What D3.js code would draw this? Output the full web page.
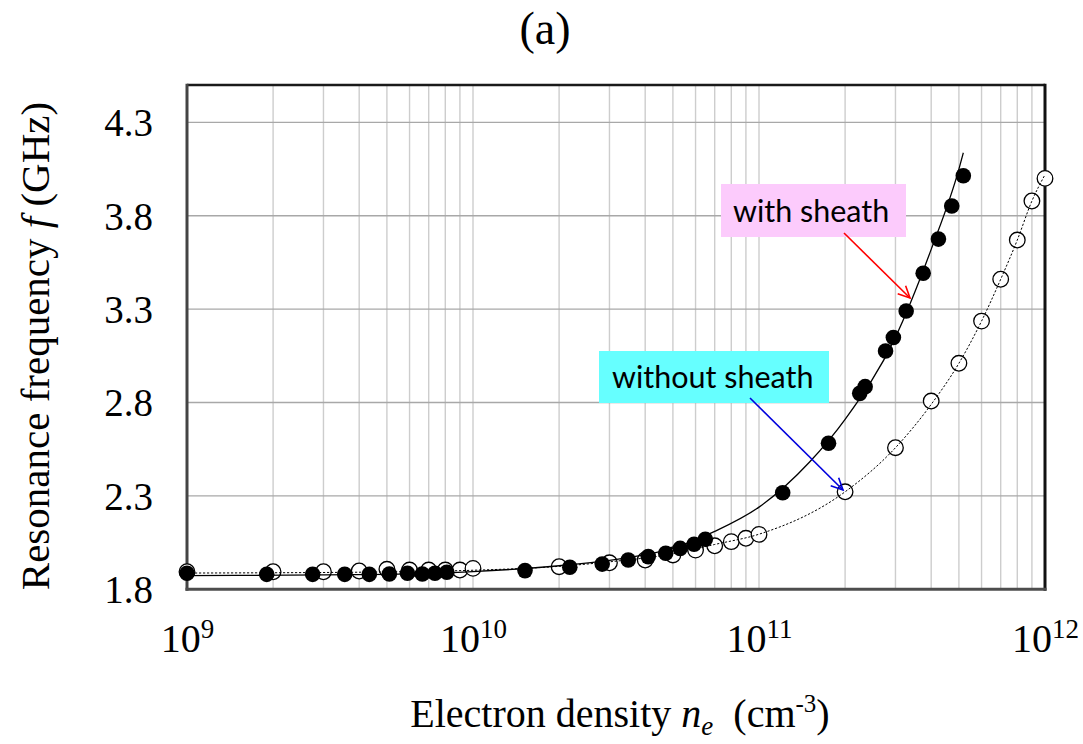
<!DOCTYPE html>
<html>
<head>
<meta charset="utf-8">
<script src="https://cdn.jsdelivr.net/npm/d3@7"></script>
<style>
  html, body { margin: 0; padding: 0; background: #fff; }
  svg { display: block; }
</style>
</head>
<body>
<svg id="chart" width="1083" height="744"></svg>
<script>
// Measured resonance frequency (GHz) vs electron density (cm^-3)
const withSheathN = [1.0e9, 1.9e9, 2.75e9, 3.56e9, 4.34e9, 5.1e9, 5.9e9, 6.65e9, 7.36e9, 8.1e9,
  1.52e10, 2.18e10, 2.83e10, 3.49e10, 4.1e10, 4.72e10, 5.3e10, 5.93e10, 6.49e10,
  1.21e11, 1.75e11, 2.25e11, 2.35e11, 2.77e11, 2.95e11, 3.27e11, 3.75e11, 4.24e11, 4.72e11, 5.18e11];
const withSheathF = [1.886, 1.880, 1.880, 1.880, 1.880, 1.882, 1.886, 1.882, 1.886, 1.891,
  1.900, 1.918, 1.935, 1.957, 1.975, 1.993, 2.019, 2.041, 2.068,
  2.317, 2.582, 2.849, 2.885, 3.076, 3.148, 3.290, 3.492, 3.675, 3.852, 4.014];

const withoutSheathN = [1e9, 2e9, 3e9, 4e9, 5e9, 6e9, 7e9, 8e9, 9e9, 1e10,
  2e10, 3e10, 4e10, 5e10, 6e10, 7e10, 8e10, 9e10, 1e11,
  2e11, 3e11, 4e11, 5e11, 6e11, 7e11, 8e11, 9e11, 1e12];
const withoutSheathF = [1.894, 1.894, 1.894, 1.898, 1.907, 1.903, 1.903, 1.903, 1.903, 1.912,
  1.921, 1.942, 1.957, 1.984, 2.010, 2.033, 2.055, 2.073, 2.094,
  2.322, 2.558, 2.808, 3.010, 3.236, 3.460, 3.670, 3.879, 4.000];

// Fitted curves
const withFitN = [1e9, 3e9, 5e9, 1e10, 2e10, 3e10, 5e10, 7e10, 1e11, 1.5e11, 2e11, 3e11, 4e11, 5e11, 5.18e11];
const withFitF = [1.873, 1.877, 1.880, 1.895, 1.926, 1.955, 2.02, 2.11, 2.24, 2.48, 2.71, 3.15, 3.62, 4.05, 4.137];
const withoutFitN = [1e9, 5e9, 1e10, 2e10, 3e10, 5e10, 7e10, 1e11, 2e11, 3e11, 4e11, 5e11, 6e11, 7e11, 8e11, 9e11, 1e12];
const withoutFitF = [1.887, 1.893, 1.902, 1.923, 1.947, 1.99, 2.04, 2.095, 2.322, 2.558, 2.79, 3.01, 3.236, 3.46, 3.67, 3.879, 4.02];

// Axis ticks
const xTickValues = [1e9, 1e10, 1e11, 1e12];
const xTickExponents = ["9", "10", "11", "12"];
const yTickValues = [1.8, 2.3, 2.8, 3.3, 3.8, 4.3];
const yDomain = [1.8, 4.5];

const svg = d3.select("#chart");
const plotL = 187, plotR = 1045, plotT = 85, plotB = 589.3;

const x = d3.scaleLog().domain([1e9, 1e12]).range([plotL, plotR]);
const y = d3.scaleLinear().domain(yDomain).range([plotB, plotT]);

const serif = "'Liberation Serif', 'Times New Roman', serif";

// Grid
const grid = svg.append("g");
grid.selectAll("line.v")
  .data(x.ticks().filter(t => t > 1e9 * 1.01 && t < 1e12 * 0.99))
  .join("line")
  .attr("x1", d => x(d)).attr("x2", d => x(d))
  .attr("y1", plotT).attr("y2", plotB)
  .attr("stroke", "#cdcdcd").attr("stroke-width", 1.4);
grid.selectAll("line.h")
  .data(yTickValues.filter(v => v > yDomain[0]))
  .join("line")
  .attr("x1", plotL).attr("x2", plotR)
  .attr("y1", d => y(d)).attr("y2", d => y(d))
  .attr("stroke", "#a8a8a8").attr("stroke-width", 1.4);

// Frame
svg.append("line").attr("x1", plotL).attr("x2", plotR).attr("y1", plotT).attr("y2", plotT)
  .attr("stroke", "#1a1a1a").attr("stroke-width", 2.6);
svg.append("line").attr("x1", plotR).attr("x2", plotR).attr("y1", plotT - 1.3).attr("y2", plotB + 1.5)
  .attr("stroke", "#111").attr("stroke-width", 3);
svg.append("line").attr("x1", plotL).attr("x2", plotL).attr("y1", plotT - 1.3).attr("y2", plotB + 1.5)
  .attr("stroke", "#444").attr("stroke-width", 3);
svg.append("line").attr("x1", plotL - 1.5).attr("x2", plotR + 1.5).attr("y1", plotB).attr("y2", plotB)
  .attr("stroke", "#4d4d4d").attr("stroke-width", 3);

// Y axis labels
const yAxis = svg.append("g")
  .attr("transform", `translate(${plotL},0)`)
  .call(d3.axisLeft(y).tickValues(yTickValues).tickSize(0).tickPadding(34).tickFormat(d3.format(".1f")));
yAxis.select(".domain").remove();
yAxis.selectAll("text")
  .attr("font-family", serif).attr("font-size", 39).attr("fill", "#000")
  .attr("dy", "0.34em");

// X axis labels with superscript exponents
const xAxis = svg.append("g")
  .attr("transform", `translate(0,${plotB})`)
  .call(d3.axisBottom(x).tickValues(xTickValues).tickSize(0).tickFormat(() => ""));
xAxis.select(".domain").remove();
xAxis.selectAll("text")
  .attr("font-family", serif).attr("font-size", 40).attr("fill", "#000")
  .attr("y", 63).attr("dy", 0)
  .each(function(d, i) {
    const t = d3.select(this);
    t.text(null);
    t.append("tspan").text("10");
    t.append("tspan").attr("font-size", 27).attr("dy", -14).text(xTickExponents[i]);
  });

// Markers: open circles (without sheath) under filled circles (with sheath)
const openPts = withoutSheathN.map((n, i) => [n, withoutSheathF[i]]);
const filledPts = withSheathN.map((n, i) => [n, withSheathF[i]]);

svg.append("g").selectAll("circle")
  .data(openPts).join("circle")
  .attr("cx", d => x(d[0])).attr("cy", d => y(d[1])).attr("r", 7.8)
  .attr("fill", "#fff").attr("stroke", "#000").attr("stroke-width", 1.3);

svg.append("g").selectAll("circle")
  .data(filledPts).join("circle")
  .attr("cx", d => x(d[0])).attr("cy", d => y(d[1])).attr("r", 7.8)
  .attr("fill", "#000");

// Fit curves
const line = d3.line().x(d => x(d[0])).y(d => y(d[1])).curve(d3.curveMonotoneX);
svg.append("path")
  .datum(withoutFitN.map((n, i) => [n, withoutFitF[i]]))
  .attr("d", line).attr("fill", "none")
  .attr("stroke", "#000").attr("stroke-width", 1).attr("stroke-dasharray", "2.2,1.8");
svg.append("path")
  .datum(withFitN.map((n, i) => [n, withFitF[i]]))
  .attr("d", line).attr("fill", "none")
  .attr("stroke", "#000").attr("stroke-width", 1.3);

// Annotations
function arrow(x1, y1, x2, y2, color) {
  const g = svg.append("g").attr("stroke", color).attr("stroke-width", 1.6).attr("fill", "none");
  g.append("line").attr("x1", x1).attr("y1", y1).attr("x2", x2).attr("y2", y2);
  const a = Math.atan2(y2 - y1, x2 - x1), L = 13, s = 0.45;
  g.append("path").attr("d",
    `M${x2 - L * Math.cos(a - s)},${y2 - L * Math.sin(a - s)} L${x2},${y2} L${x2 - L * Math.cos(a + s)},${y2 - L * Math.sin(a + s)}`);
}

const sans = "Lato, 'Open Sans', sans-serif";
svg.append("rect").attr("x", 721).attr("y", 184).attr("width", 185).attr("height", 53).attr("fill", "#fccbfc");
svg.append("text").attr("x", 733).attr("y", 222).attr("font-family", sans).attr("font-size", 30.5)
  .attr("fill", "#000").text("with sheath");
arrow(844, 233, 910, 298, "#ff0000");

svg.append("rect").attr("x", 599).attr("y", 351).attr("width", 230).attr("height", 52).attr("fill", "#66ffff");
svg.append("text").attr("x", 612).attr("y", 388).attr("font-family", sans).attr("font-size", 30.5)
  .attr("fill", "#000").text("without sheath");
arrow(750, 398, 843, 490, "#0000dd");

// Title
svg.append("text").attr("x", 545).attr("y", 44).attr("text-anchor", "middle")
  .attr("font-family", serif).attr("font-size", 46).attr("fill", "#000").text("(a)");

// Axis titles
const xt = svg.append("text").attr("x", 620).attr("y", 727).attr("text-anchor", "middle")
  .attr("font-family", serif).attr("font-size", 40).attr("fill", "#000");
xt.append("tspan").text("Electron density ");
xt.append("tspan").attr("font-style", "italic").text("n");
xt.append("tspan").attr("font-style", "italic").attr("font-size", 27).attr("dy", 8).text("e");
xt.append("tspan").attr("dy", -8).text("\u00a0 (cm");
xt.append("tspan").attr("font-size", 25).attr("dy", -15).text("-3");
xt.append("tspan").attr("dy", 15).text(")");

const yt = svg.append("text")
  .attr("transform", "translate(49,346) rotate(-90)")
  .attr("text-anchor", "middle")
  .attr("font-family", serif).attr("font-size", 41).attr("fill", "#000");
yt.append("tspan").text("Resonance frequency ");
yt.append("tspan").attr("font-style", "italic").text("f");
yt.append("tspan").text(" (GHz)");
</script>
</body>
</html>
